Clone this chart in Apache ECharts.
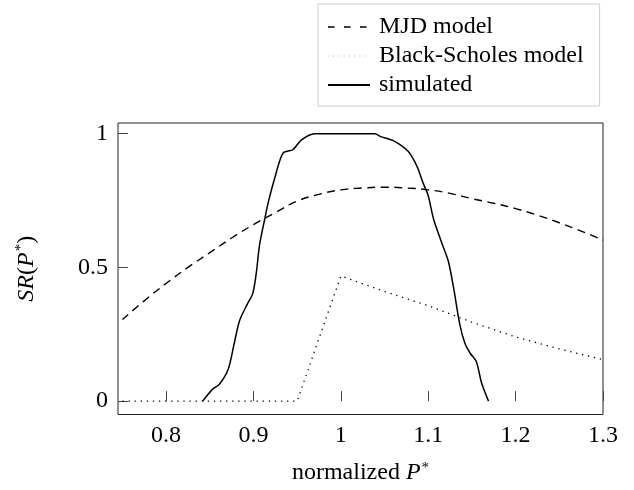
<!DOCTYPE html>
<html>
<head>
<meta charset="utf-8">
<script src="https://cdn.jsdelivr.net/npm/echarts@6/dist/echarts.min.js"></script>
<style>
html,body{margin:0;padding:0;background:#fff;}
#chart{width:634px;height:490px;}
</style>
</head>
<body>
<div id="chart"></div>
<script>
var xTicks = [0.8, 0.9, 1.0, 1.1, 1.2, 1.3];
var yTicks = [0, 0.5, 1];

var mjdX = [0.75,0.775,0.8,0.825,0.85,0.875,0.9,0.925,0.95,0.975,1.0,1.025,1.05,1.075,1.1,1.125,1.15,1.175,1.2,1.225,1.25,1.275,1.3];
var mjdY = [0.305,0.375,0.44,0.50,0.555,0.61,0.66,0.705,0.748,0.773,0.79,0.797,0.80,0.797,0.79,0.777,0.757,0.74,0.72,0.695,0.667,0.636,0.602];

var bsX = [0.75,0.95,1.0,1.05,1.1,1.15,1.2,1.25,1.3];
var bsY = [0,0,0.468,0.41,0.357,0.295,0.24,0.195,0.155];

var simX = [0.842,0.853,0.861,0.871,0.878,0.884,0.893,0.899,0.903,0.907,0.913,0.917,0.924,0.934,0.945,0.955,0.97,1.039,1.045,1.06,1.077,1.087,1.094,1.1,1.106,1.115,1.123,1.129,1.136,1.142,1.148,1.155,1.161,1.169];
var simY = [0,0.044,0.063,0.118,0.216,0.30,0.363,0.40,0.473,0.584,0.682,0.744,0.83,0.928,0.94,0.977,1.0,1.0,0.99,0.974,0.934,0.879,0.817,0.768,0.682,0.596,0.523,0.424,0.289,0.216,0.179,0.148,0.069,0];

function pairs(xs, ys){ return xs.map(function(x,i){ return [x, ys[i]]; }); }

var FONT = 'Liberation Serif';
var FS = 24;
var chart = echarts.init(document.getElementById('chart'), null, {renderer:'canvas'});
chart.setOption({
  animation: false,
  backgroundColor: '#fff',
  grid: {left: 118, right: 31, top: 123, bottom: 71, show: true, borderColor: '#222', borderWidth: 1, containLabel: false},
  legend: {
    left: 318, top: 4, orient: 'vertical',
    padding: [11, 16, 9, 9],
    itemWidth: 42, itemHeight: 14, itemGap: 5,
    borderColor: '#ccc', borderWidth: 1,
    itemStyle: {opacity: 0},
    textStyle: {fontFamily: FONT, fontSize: FS, color: '#000', padding: [0,0,0,4]},
    data: [
      {name: 'MJD model', lineStyle: {color: '#000', type: [6.5, 9.5], width: 1.4}},
      {name: 'Black-Scholes model', lineStyle: {color: '#c8c8c8', type: [1.2, 4], width: 1}},
      {name: 'simulated'}
    ]
  },
  xAxis: {
    type: 'value', min: 0.745, max: 1.3,
    name: '{n|normalized }{i|P}{s|*}', nameLocation: 'middle', nameGap: 46,
    nameTextStyle: {rich: {
      n: {fontFamily: FONT, fontSize: FS, color: '#000'},
      i: {fontFamily: FONT, fontStyle: 'italic', fontSize: FS, color: '#000'},
      s: {fontFamily: FONT, fontSize: 15, color: '#000', verticalAlign: 'top', padding: [0,0,10,1]}
    }},
    axisLine: {show: false},
    axisTick: {show: true, inside: true, length: 10, customValues: xTicks, lineStyle: {color: '#444', width: 1}},
    axisLabel: {customValues: xTicks, margin: 9, fontFamily: FONT, fontSize: FS, color: '#000',
      formatter: function(v){ return String(Math.round(v*10)/10); }},
    splitLine: {show: false}
  },
  yAxis: {
    type: 'value', min: -0.05, max: 1.04,
    name: '{i|SR}{n|(}{i|P}{s|*}{n|)}', nameLocation: 'middle', nameGap: 79, nameRotate: 90,
    nameTextStyle: {rich: {
      n: {fontFamily: FONT, fontSize: FS, color: '#000'},
      i: {fontFamily: FONT, fontStyle: 'italic', fontSize: FS, color: '#000'},
      s: {fontFamily: FONT, fontSize: 15, color: '#000', verticalAlign: 'top', padding: [0,0,10,1]}
    }},
    axisLine: {show: false},
    axisTick: {show: true, inside: true, length: 10, customValues: yTicks, lineStyle: {color: '#444', width: 1}},
    axisLabel: {customValues: yTicks, margin: 10, fontFamily: FONT, fontSize: FS, color: '#000'},
    splitLine: {show: false}
  },
  series: [
    {name: 'MJD model', type: 'line', data: pairs(mjdX, mjdY), symbol: 'none', smooth: true,
     itemStyle: {color: '#000'},
     lineStyle: {color: '#000', width: 1.4, type: [8, 5.5]}},
    {name: 'Black-Scholes model', type: 'line', data: pairs(bsX, bsY), symbol: 'none', smooth: false,
     itemStyle: {color: '#000'},
     lineStyle: {color: '#000', width: 1.3, type: [1.3, 4.8]}},
    {name: 'simulated', type: 'line', data: pairs(simX, simY), symbol: 'none', smooth: 0.3,
     itemStyle: {color: '#000'},
     lineStyle: {color: '#000', width: 1.5, type: 'solid'}}
  ]
});
</script>
</body>
</html>
